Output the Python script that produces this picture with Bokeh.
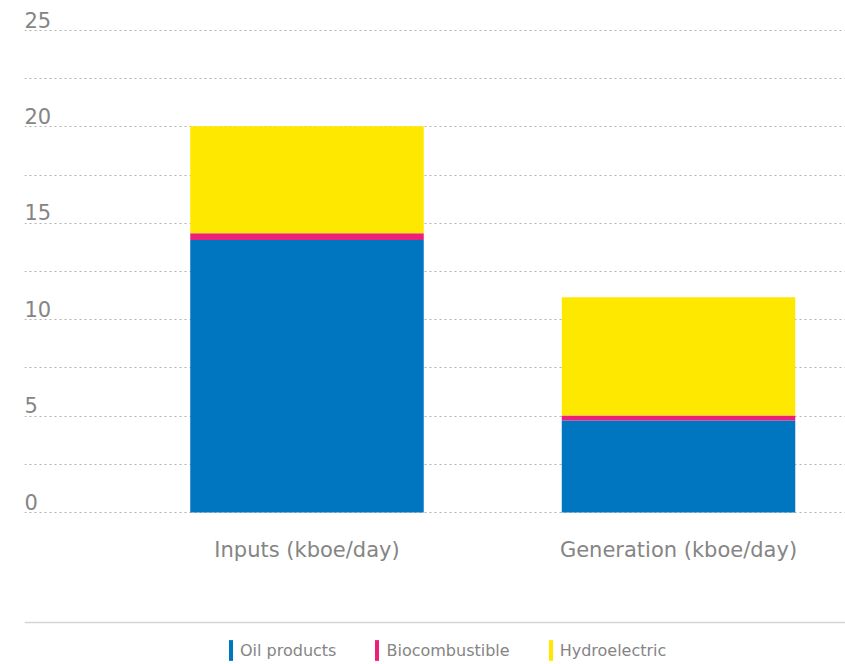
from bokeh.plotting import figure
from bokeh.models import ColumnDataSource, Range1d, LabelSet, Span, Legend, LegendItem, FixedTicker
from bokeh.core.properties import value
from bokeh.embed import file_html
from bokeh.resources import INLINE

categories = ["Inputs (kboe/day)", "Generation (kboe/day)"]
series = ["Oil products", "Biocombustible", "Hydroelectric"]
oil_products = [14.14, 4.77]
biocombustible = [0.35, 0.26]
hydroelectric = [5.55, 6.14]
y_ticks = [0, 5, 10, 15, 20, 25]
colors = ["#0076c0", "#ec1f79", "#ffe800"]

FONT = "DejaVu Sans"
GRAY = "#858585"

x_pos = list(range(len(categories)))
src = ColumnDataSource(dict(x=x_pos, cat=categories,
                            oil=oil_products, bio=biocombustible, hyd=hydroelectric))

px_per_unit = 482 / 25.0
y_end = 25 + 20 / px_per_unit
y_start = -(664 - 512) / px_per_unit
x_start, x_end = -0.7604, 1.4495

p = figure(width=845, height=664, output_backend="svg", toolbar_location=None,
           x_range=Range1d(x_start, x_end), y_range=Range1d(y_start, y_end),
           min_border_left=24, min_border_right=0, min_border_top=10, min_border_bottom=0)
p.xaxis.visible = False
p.yaxis.visible = False
p.outline_line_color = None
p.xgrid.visible = False
grid_ticks = sorted(set(y_ticks + [(a + b) / 2 for a, b in zip(y_ticks[:-1], y_ticks[1:])]))
p.ygrid.ticker = FixedTicker(ticks=grid_ticks)
p.ygrid.grid_line_color = "#b3b3b3"
p.ygrid.grid_line_dash = "2 3"
p.ygrid.grid_line_width = 1

rs = p.vbar_stack(["oil", "bio", "hyd"], x="x", width=0.6285, color=colors, source=src,
                  line_color=None)

# y tick labels sitting above gridlines
tsrc = ColumnDataSource(dict(y=y_ticks, x=[x_start] * len(y_ticks), t=[str(v) for v in y_ticks]))
p.add_layout(LabelSet(x="x", y="y", text="t", source=tsrc, text_align="left",
                      text_baseline="alphabetic", y_offset=3, text_font=value(FONT),
                      text_font_size="21px", text_color=GRAY))

# category labels
p.add_layout(LabelSet(x="x", y=-(549 - 512) / px_per_unit, text="cat", source=src,
                      text_align="center", text_baseline="middle", text_font=value(FONT),
                      text_font_size="21px", text_color=GRAY))

# separator
p.add_layout(Span(location=-(622 - 512) / px_per_unit, dimension="width",
                  line_color="#d4d4d4", line_width=1.5))

legend = Legend(items=[LegendItem(label=s, renderers=[r]) for s, r in zip(series, rs)],
                orientation="horizontal", location=(204, 1), padding=0, margin=0,
                spacing=38, label_standoff=7, glyph_width=5, glyph_height=26,
                label_height=26, label_text_font=FONT, label_text_font_size="16px",
                label_text_color=GRAY, label_text_baseline="alphabetic",
                background_fill_alpha=0, border_line_color=None)
p.add_layout(legend)

open("out.html", "w").write(file_html(p, INLINE))
